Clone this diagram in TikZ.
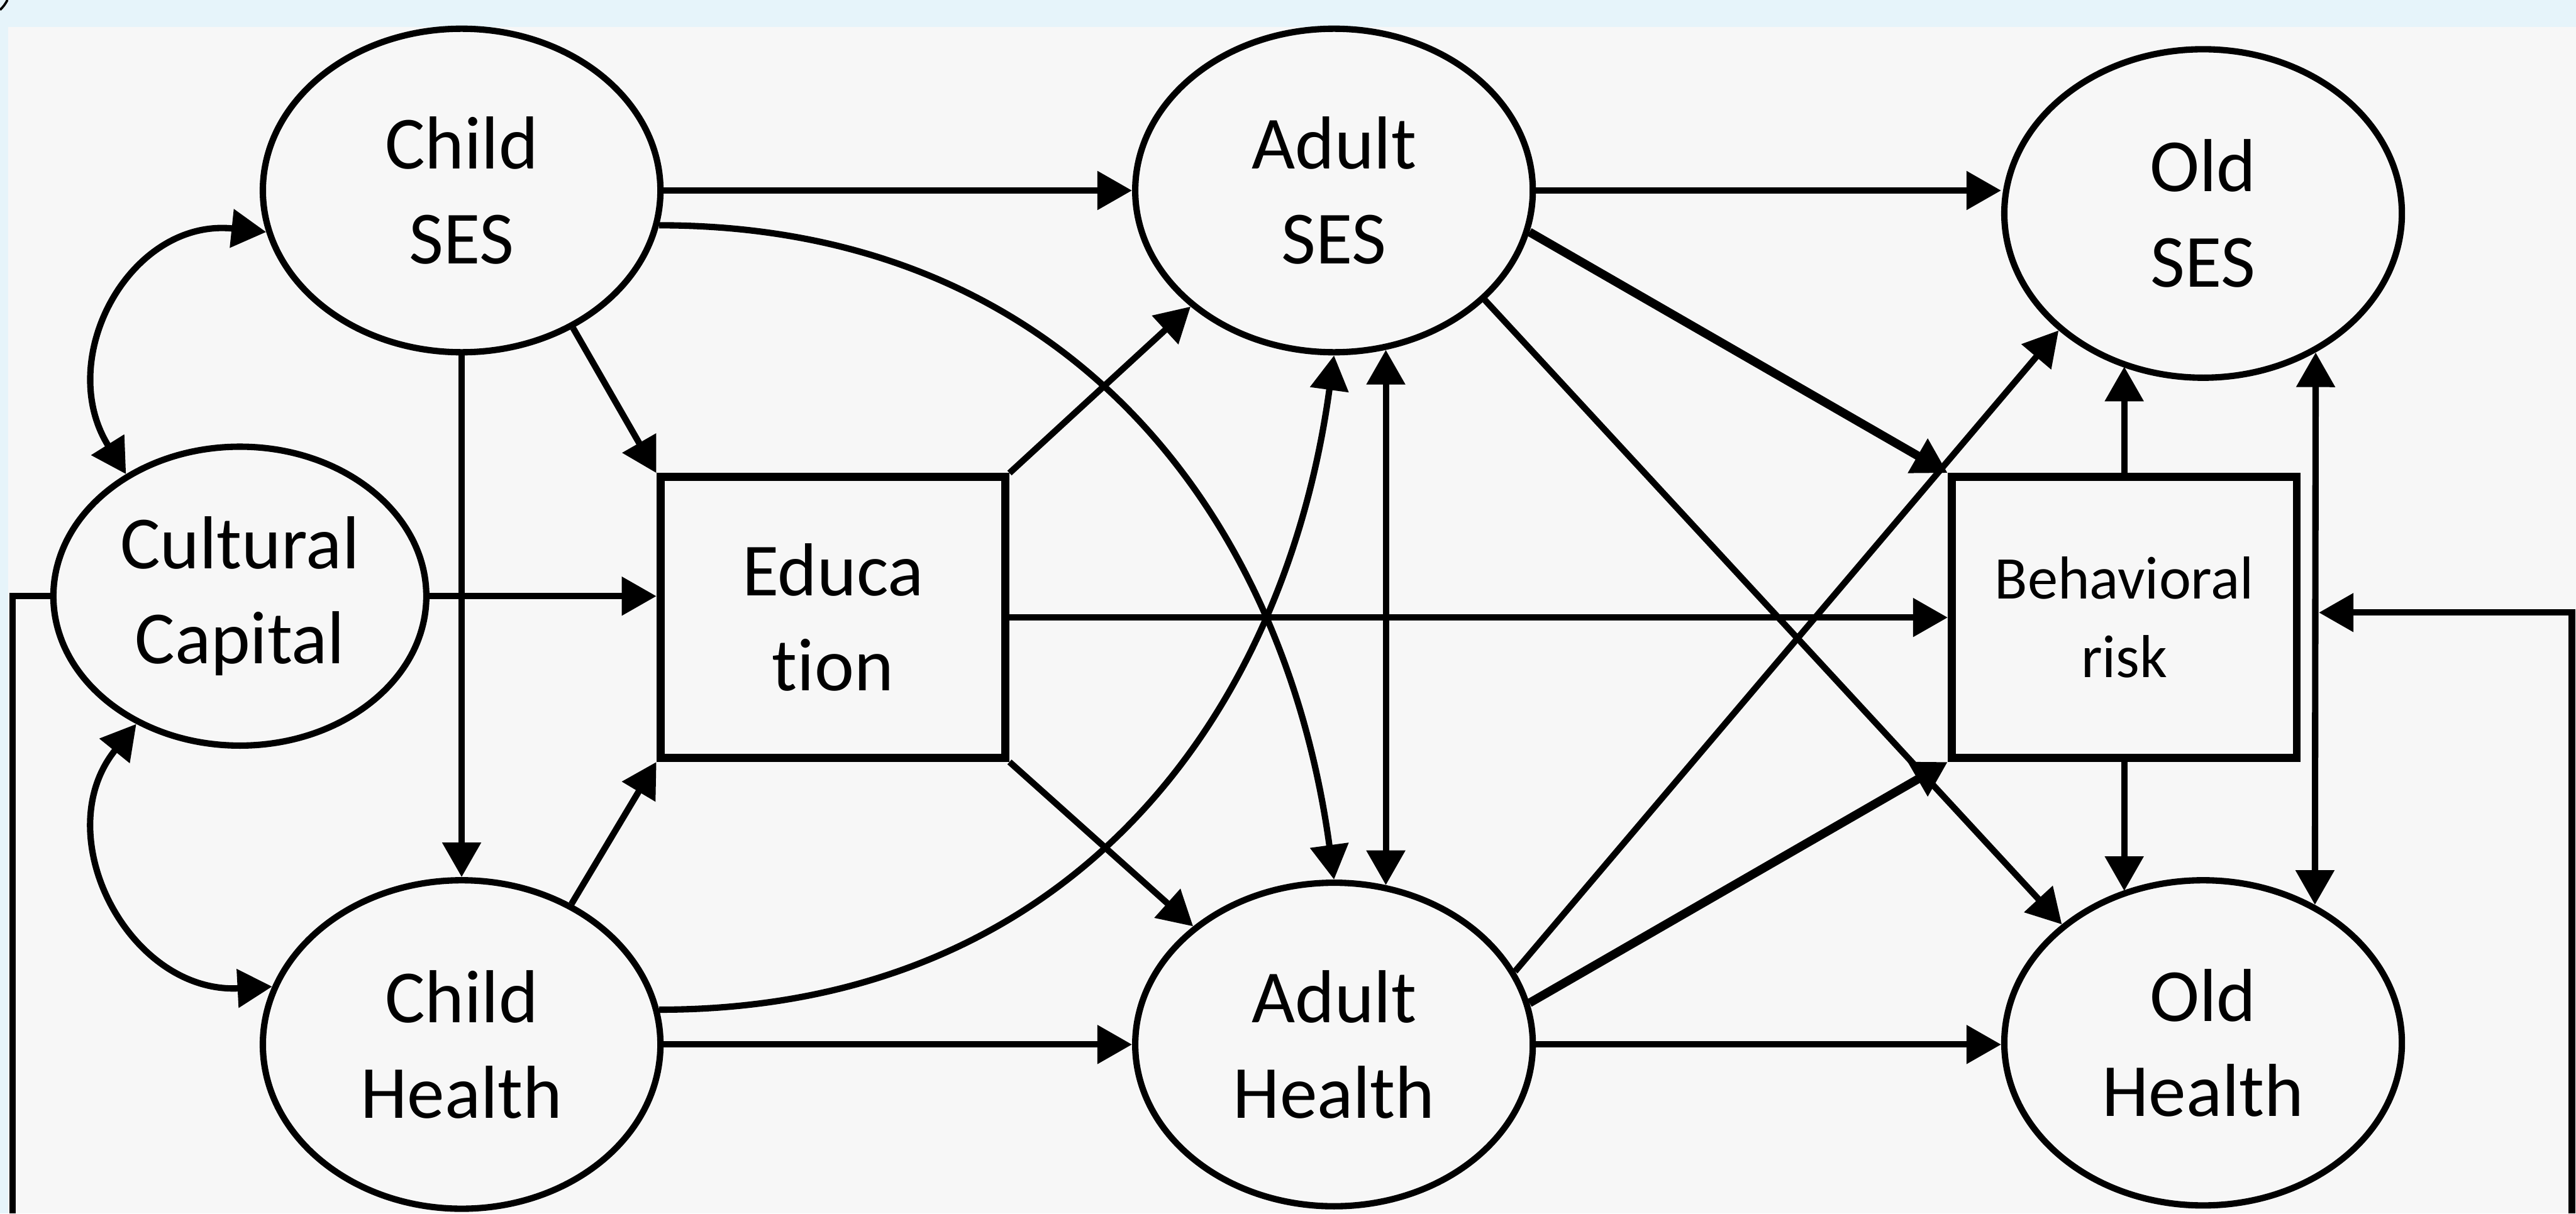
\documentclass[tikz,border=0pt]{standalone}
\usepackage{fontspec}
\setmainfont{Carlito}[Ligatures=NoCommon]
\usetikzlibrary{arrows.meta,shapes.geometric}

\definecolor{skyback}{RGB}{230,244,250}
\definecolor{panelgrey}{RGB}{247,247,247}

\tikzset{
    latent/.style={ellipse, draw, line width=1.1pt, fill=panelgrey,
        minimum width=2.42cm, minimum height=1.97cm, inner sep=0pt,
        align=center, font=\fontsize{13}{16.5}\selectfont},
    obsbox/.style={rectangle, draw, line width=1.4pt, fill=panelgrey,
        minimum width=2.1cm, minimum height=1.71cm, inner sep=0pt, align=center},
    effect/.style={-{Triangle[length=6pt,width=6.5pt]}, line width=1.1pt},
    cov/.style={{Triangle[length=6pt,width=6.5pt]}-{Triangle[length=6pt,width=6.5pt]}, line width=1.1pt},
}

\begin{document}
\begin{tikzpicture}
    % Background
    \useasboundingbox (0,0) rectangle (15.68,7.39);
    \fill[skyback] (0,0) rectangle (15.68,7.39);
    \fill[panelgrey] (0.048,0) rectangle (15.68,7.225);
    \draw[line width=0.4pt] (0,7.33) to[bend right=10] (0.045,7.39);

    % Nodes
    \node[latent] (cses) at (2.81,6.23) {Child\\SES};
    \node[latent, minimum width=2.27cm, minimum height=1.82cm] (ccap) at (1.46,3.76) {Cultural\\Capital};
    \node[latent, minimum height=2cm] (chealth) at (2.81,1.03) {Child\\Health};
    \node[obsbox, font=\fontsize{13}{16.5}\selectfont] (edu) at (5.07,3.63) {Educa\\tion};
    \node[latent] (asses) at (8.12,6.23) {Adult\\SES};
    \node[latent] (ahealth) at (8.12,1.03) {Adult\\Health};
    \node[obsbox, font=\fontsize{10.5}{13.6}\selectfont] (brisk) at (12.93,3.63) {Behavioral\\risk};
    \node[latent, minimum height=2cm] (osses) at (13.41,6.09) {Old\\SES};
    \node[latent, minimum height=1.98cm] (ohealth) at (13.41,1.04) {Old\\Health};

    % Loop ends
    \coordinate (lbot) at (0.075,0);
    \coordinate (rtop) at (15.655,3.66);
    \coordinate (rbot) at (15.655,0);

    % Childhood
    \draw[effect] (cses.east) -- (asses.west);
    \draw[effect] (cses.-10) .. controls +(2.5,0) and +(-0.3,2.2) .. (ahealth.north);
    \draw[effect] (cses.-51) -- (edu.north west);
    \draw[effect] (cses) -- (chealth);
    \draw[cov] (ccap.133) to[out=122,in=174,looseness=1.25] (cses.192);
    \draw[cov] (ccap.231) to[out=231,in=183,looseness=1.24] (chealth.163);
    \draw[effect] (ccap.east) -- (ccap.east -| edu.west);
    \draw[effect] (chealth.52) -- (edu.south west);
    \draw[effect] (chealth.10) .. controls +(2.5,0) and +(-0.3,-2.2) .. (asses.south);
    \draw[effect] (chealth.east) -- (ahealth.west);

    % Education
    \draw[effect] (edu.north east) -- (asses.219);
    \draw[effect] (edu.south east) -- (ahealth.140);
    \draw[effect] (edu.east) -- (brisk.west);

    % Adulthood
    \draw[cov] (asses.-72) -- (ahealth.72);
    \draw[effect] (asses.east) -- (asses.east -| osses.west);
    \draw[effect, line width=1.5pt] (asses.-12) -- (brisk.north west);
    \draw[effect] (asses.-36) -- (ohealth.140);
    \draw[effect] (ahealth.22) -- (osses.219);
    \draw[effect, line width=1.5pt] (ahealth.12) -- (brisk.south west);
    \draw[effect] (ahealth.east) -- (ahealth.east -| ohealth.west);

    % Old age
    \draw[effect] (brisk.north) -- (brisk.north |- osses.242);
    \draw[effect] (brisk.south) -- (brisk.south |- ohealth.118);
    \draw[cov] (osses.-51) -- (ohealth.51);

    % Feedback loop
    \draw[line width=1.1pt] (ccap.west) -| (lbot);
    \draw[effect, shorten >=1.1mm] (rbot) -- (rtop) -- (rtop -| brisk.east);
\end{tikzpicture}
\end{document}
